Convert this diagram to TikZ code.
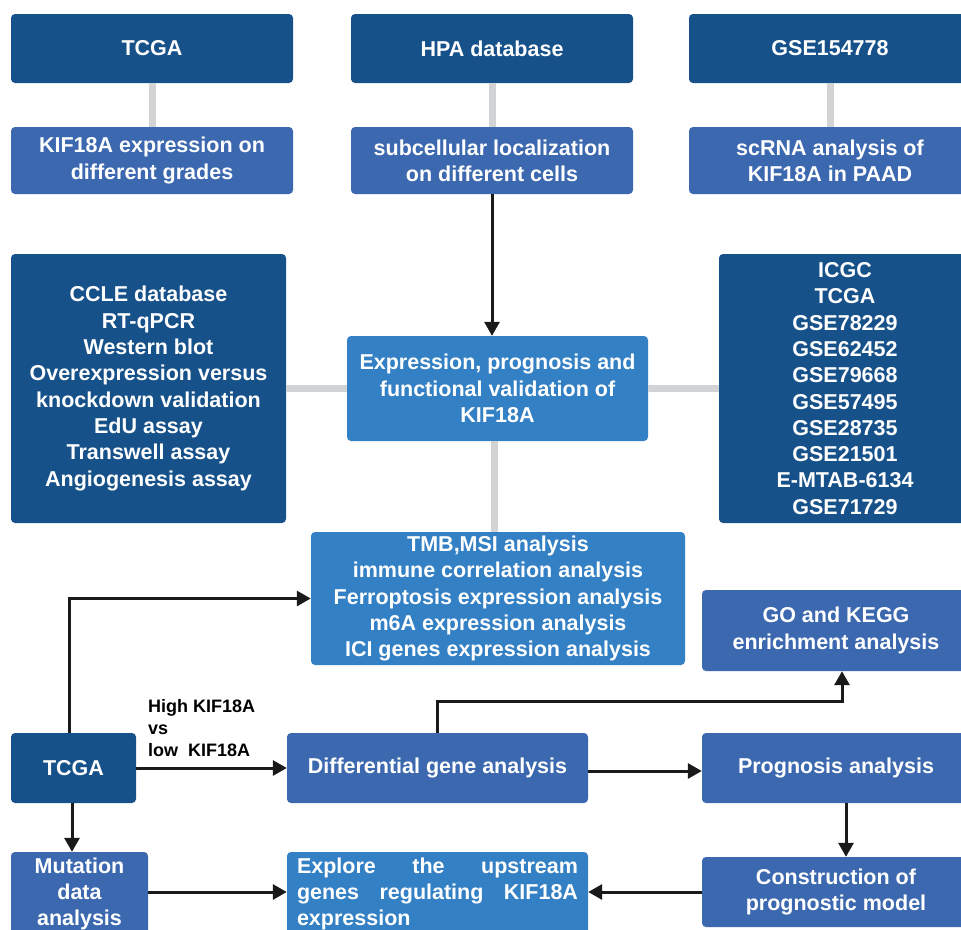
\documentclass[tikz,border=0pt]{standalone}
\usepackage{fontspec}
\setmainfont{Liberation Sans}
\usepackage{xcolor}
\usepackage{tikz}
\usetikzlibrary{positioning, arrows.meta}

\definecolor{boxdark}{HTML}{17518A}
\definecolor{boxmid}{HTML}{3B68AF}
\definecolor{boxlite}{HTML}{3380C4}
\definecolor{linkgray}{HTML}{D1D3D5}
\definecolor{arrowblack}{HTML}{1A1A1A}

\begin{document}
\begin{tikzpicture}[x=1pt, y=-1pt,
    box/.style={rectangle, rounded corners=4pt, text=white, align=center, inner sep=0pt,
        font=\fontsize{21.5}{26.3}\selectfont\bfseries},
    darkbox/.style={box, fill=boxdark},
    midbox/.style={box, fill=boxmid},
    litebox/.style={box, fill=boxlite},
    link/.style={draw=linkgray, line width=7pt},
    flow/.style={draw=arrowblack, line width=3pt, -{Triangle[length=14pt, width=15pt]}}]

    \useasboundingbox (0,0) rectangle (961,929);
    \clip (0,0) rectangle (961,929);

    % Top sources
    \node[darkbox, minimum width=282pt, minimum height=69pt] (tcgaA) at (152,48.5) {TCGA};
    \node[darkbox, minimum width=282pt, minimum height=69pt] (hpa) at (492,48.5) {HPA database};
    \node[darkbox, minimum width=282pt, minimum height=69pt] (gse) at (830,48.5) {GSE154778};

    % Second row
    \node[midbox, minimum width=282pt, minimum height=67pt] (kifexpr) at (152,160.5) {KIF18A expression on\\different grades};
    \node[midbox, minimum width=282pt, minimum height=67pt] (subcell) at (492,160.5) {subcellular localization\\on different cells};
    \node[midbox, minimum width=282pt, minimum height=67pt] (scrna) at (830,160.5) {scRNA analysis of\\KIF18A in PAAD};

    % Middle block
    \node[darkbox, minimum width=275pt, minimum height=269pt] (ccle) at (148.5,388.5)
        {CCLE database\\RT-qPCR\\Western blot\\Overexpression versus\\knockdown validation\\EdU assay\\Transwell assay\\Angiogenesis assay};
    \node[litebox, minimum width=301pt, minimum height=105pt] (expr) at (497.5,388.5)
        {Expression, prognosis and\\functional validation of\\KIF18A};
    \node[darkbox, minimum width=252pt, minimum height=269pt] (cohorts) at (845,388.5)
        {ICGC\\TCGA\\GSE78229\\GSE62452\\GSE79668\\GSE57495\\GSE28735\\GSE21501\\E-MTAB-6134\\GSE71729};
    \node[litebox, minimum width=374pt, minimum height=133pt] (tmb) at (498,598.5)
        {TMB,MSI analysis\\immune correlation analysis\\Ferroptosis expression analysis\\m6A expression analysis\\ICI genes expression analysis};

    % Lower workflow
    \node[midbox, minimum width=268pt, minimum height=81pt] (go) at (836,630.5) {GO and KEGG\\enrichment analysis};
    \node[darkbox, minimum width=125pt, minimum height=70pt] (tcgaB) at (73.5,768) {TCGA};
    \node[midbox, minimum width=301pt, minimum height=70pt] (diff) at (437.5,768) {Differential gene analysis};
    \node[midbox, minimum width=268pt, minimum height=70pt] (prog) at (836,768) {Prognosis analysis};
    \node[midbox, minimum width=137pt, minimum height=84pt] (mut) at (79.5,894) {Mutation\\data\\analysis};
    \node[litebox, minimum width=301pt, minimum height=84pt, text width=281pt, align=left] (explore) at (437.5,894)
        {Explore\hfill the\hfill upstream\\genes\hfill regulating\hfill KIF18A\\expression};
    \node[midbox, minimum width=268pt, minimum height=70pt] (constr) at (836,892) {Construction of\\prognostic model};

    % Group label
    \node[anchor=west, align=left, text=black, inner sep=0pt, font=\fontsize{18}{22}\selectfont\bfseries]
        (grp) at (148,728) {High KIF18A\\vs\\low\ \ KIF18A};

    % Gray links
    \draw[link] (tcgaA) -- (kifexpr);
    \draw[link] (hpa) -- (subcell);
    \draw[link] (gse) -- (scrna);
    \draw[link] (ccle) -- (expr);
    \draw[link] (expr) -- (cohorts);
    \draw[link] (expr.south -| 494,0) -- (tmb.north -| 494,0);

    % Arrows
    \draw[flow] (subcell.south) -- (subcell.south |- expr.north);
    \draw[flow] (tcgaB.north -| 69,0) |- (tmb.west);
    \draw[flow] (tcgaB) -- (diff);
    \draw[flow] (tcgaB.south -| 72,0) -- (mut.north -| 72,0);
    \draw[flow] (diff.north) -- ++(0,-31) -| (go.south -| 842,0);
    \draw[flow] (diff.east |- 0,771) -- (prog.west |- 0,771);
    \draw[flow] (prog.south -| 846,0) -- (constr.north -| 846,0);
    \draw[flow] (constr) -- (explore.east |- constr);
    \draw[flow] (mut.east |- 0,892) -- (explore.west |- 0,892);

\end{tikzpicture}
\end{document}
